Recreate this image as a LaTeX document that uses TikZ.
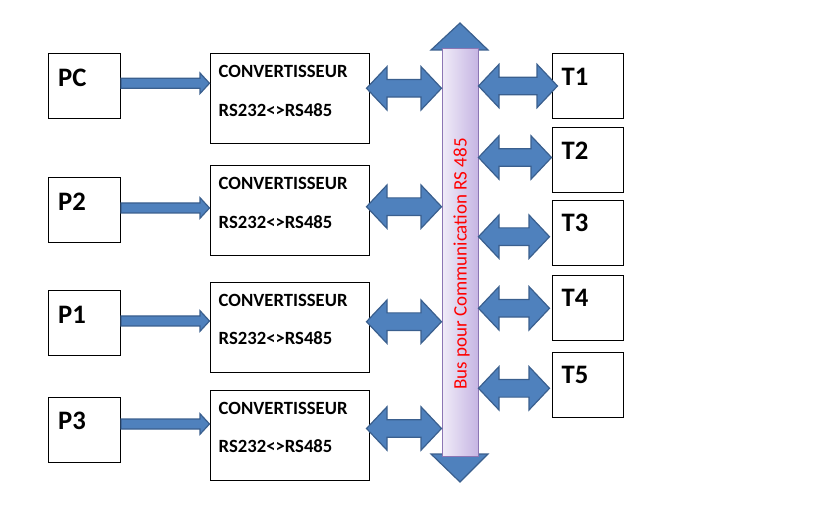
\documentclass[tikz,border=0pt]{standalone}
\usepackage{fontspec}
\setmainfont{Carlito}
\usetikzlibrary{calc}
\definecolor{arrowfill}{HTML}{4F81BD}
\definecolor{arrowedge}{HTML}{3A5F8E}
\definecolor{buslight}{HTML}{F0ECF8}
\definecolor{busdark}{HTML}{C6B5E3}
\definecolor{busedge}{HTML}{8C76B4}
\begin{document}
\begin{tikzpicture}[x=1pt, y=-1pt,
    box/.style={rectangle, draw, line width=1pt, minimum width=72pt, minimum height=65pt, inner sep=0pt},
    conv/.style={rectangle, draw, line width=1pt, minimum width=159pt, minimum height=90pt, inner sep=0pt},
    tag/.style={anchor=base west, inner sep=0pt, font=\fontsize{26.67}{30}\selectfont\bfseries},
    convtext/.style={anchor=base west, inner sep=0pt, align=left, font=\fontsize{18.67}{38.5}\selectfont\bfseries},
    bus/.style={rectangle, draw=busedge, line width=1pt, minimum width=36pt, minimum height=407pt, left color=buslight, right color=busdark},
    bustext/.style={rotate=90, text=red, inner sep=0pt, font=\fontsize{19}{22}\selectfont},
    head/.style={fill=arrowfill, draw=arrowedge, line width=1.2pt, line join=miter},
    flow/.style={head, to path={let \p1=(\tikztostart), \p2=(\tikztotarget) in
        (\x1,\y1+5pt) -- (\x2-9.5pt,\y1+5pt) -- (\x2-9.5pt,\y1+10.3pt) -- (\x2,\y1)
        -- (\x2-9.5pt,\y1-10.3pt) -- (\x2-9.5pt,\y1-5pt) -- (\x1,\y1-5pt) -- cycle}},
    twoway/.style={head, to path={let \p1=(\tikztostart), \p2=(\tikztotarget) in
        (\x1,\y1) -- (\x1+20.5pt,\y1+21.7pt) -- (\x1+20.5pt,\y1+8.8pt) -- (\x2-20.5pt,\y1+8.8pt)
        -- (\x2-20.5pt,\y1+21.7pt) -- (\x2,\y1) -- (\x2-20.5pt,\y1-21.7pt) -- (\x2-20.5pt,\y1-8.8pt)
        -- (\x1+20.5pt,\y1-8.8pt) -- (\x1+20.5pt,\y1-21.7pt) -- cycle}}
]
\useasboundingbox (0,0) rectangle (819,518);

% postes
\node[box] (pc) at (84.5, 86.5)  {};
\node[box] (p2) at (84.5, 210.5) {};
\node[box] (p1) at (84.5, 323.5) {};
\node[box] (p3) at (84.5, 429.5) {};
\node[tag] (pct) at ([xshift=10pt, yshift=-33pt]pc.north west) {PC};
\node[tag] (p2t) at ([xshift=10pt, yshift=-33pt]p2.north west) {P2};
\node[tag] (p1t) at ([xshift=10pt, yshift=-33pt]p1.north west) {P1};
\node[tag] (p3t) at ([xshift=10pt, yshift=-33pt]p3.north west) {P3};

% convertisseurs
\node[conv] (cv1) at (289.5, 99)    {};
\node[conv] (cv2) at (289.5, 211)   {};
\node[conv] (cv3) at (289.5, 327.5) {};
\node[conv] (cv4) at (289.5, 435.5) {};
\node[convtext] (cv1t) at ([xshift=9pt, yshift=-62.7pt]cv1.north west) {CONVERTISSEUR\\RS232<>RS485};
\node[convtext] (cv2t) at ([xshift=9pt, yshift=-62.7pt]cv2.north west) {CONVERTISSEUR\\RS232<>RS485};
\node[convtext] (cv3t) at ([xshift=9pt, yshift=-62.7pt]cv3.north west) {CONVERTISSEUR\\RS232<>RS485};
\node[convtext] (cv4t) at ([xshift=9pt, yshift=-62.7pt]cv4.north west) {CONVERTISSEUR\\RS232<>RS485};

% terminaux
\node[box, minimum width=71pt] (t1) at (587.5, 86.5) {};
\node[box, minimum width=71pt] (t2) at (587.5, 160.5) {};
\node[box, minimum width=71pt] (t3) at (587.5, 233)   {};
\node[box, minimum width=71pt] (t4) at (587.5, 308)   {};
\node[box, minimum width=71pt] (t5) at (587.5, 385)   {};
\node[tag] (t1t) at ([xshift=10pt, yshift=-32pt]t1.north west) {T1};
\node[tag] (t2t) at ([xshift=10pt, yshift=-32pt]t2.north west) {T2};
\node[tag] (t3t) at ([xshift=10pt, yshift=-32pt]t3.north west) {T3};
\node[tag] (t4t) at ([xshift=10pt, yshift=-32pt]t4.north west) {T4};
\node[tag] (t5t) at ([xshift=10pt, yshift=-32pt]t5.north west) {T5};

% bus
\coordinate (bustop) at (460, 49);
\coordinate (busbot) at (460, 456);
\draw[head] ([xshift=-29pt, yshift=-1pt]bustop) -- ([xshift=28pt, yshift=-1pt]bustop) -- ([yshift=26pt]bustop) -- cycle;
\draw[head] ([xshift=-29pt, yshift=2pt]busbot) -- ([xshift=28pt, yshift=2pt]busbot) -- ([yshift=-26pt]busbot) -- cycle;
\node[bus] (bus) at (460, 252.5) {};
\node[bustext] (bust) at (461.5, 264) {Bus pour Communication RS 485};

\coordinate (bl1) at (bus.west |- 0, 88.3);
\coordinate (bl2) at (bus.west |- 0, 206.7);
\coordinate (bl3) at (bus.west |- 0, 321.7);
\coordinate (bl4) at (bus.west |- 0, 428.5);
\coordinate (br1) at (bus.east |- 0, 86);
\coordinate (br2) at (bus.east |- 0, 157.5);
\coordinate (br3) at (bus.east |- 0, 236.7);
\coordinate (br4) at (bus.east |- 0, 308.3);
\coordinate (br5) at (bus.east |- 0, 388.3);

\draw[flow] ([yshift=3.2pt]pc.east) to (cv1.west);
\draw[flow] ([yshift=2.5pt]p2.east) to (cv2.west);
\draw[flow] ([yshift=2.5pt]p1.east) to (cv3.west);
\draw[flow] ([yshift=5.5pt]p3.east) to (cv4.west);

\draw[twoway] ([xshift=-3pt]cv1.east |- bl1) to (bl1);
\draw[twoway] ([xshift=-3pt]cv2.east |- bl2) to (bl2);
\draw[twoway] ([xshift=-3pt]cv3.east |- bl3) to (bl3);
\draw[twoway] ([xshift=-3pt]cv4.east |- bl4) to (bl4);

\draw[twoway] (br1) to ([xshift=6pt]t1.west |- br1);
\draw[twoway] (br2) to (t2.west |- br2);
\draw[twoway] (br3) to ([xshift=-2pt]t3.west |- br3);
\draw[twoway] (br4) to ([xshift=-2pt]t4.west |- br4);
\draw[twoway] (br5) to ([xshift=-2pt]t5.west |- br5);
\end{tikzpicture}
\end{document}
